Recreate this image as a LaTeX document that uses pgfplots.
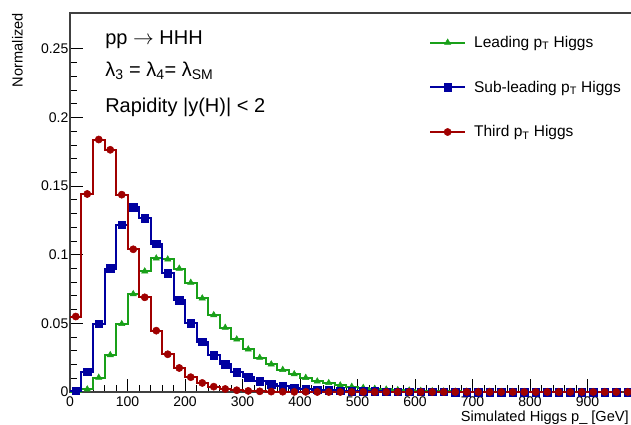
\documentclass[border=0pt]{standalone}
\usepackage{fontspec}
\setmainfont{Liberation Sans}
\usepackage{pgfplots}
\usepackage{pgfplotstable}
\pgfplotsset{compat=1.18}
\definecolor{cgreen}{RGB}{25,160,25}
\definecolor{cblue}{RGB}{0,0,160}
\definecolor{cred}{RGB}{160,0,0}
\pgfplotstableread{
x lead sub third
10 0.0003 0.001 0.055
30 0.002 0.0148 0.1443
50 0.0105 0.0496 0.184
70 0.027 0.090 0.1765
90 0.0496 0.122 0.1438
110 0.0714 0.1346 0.104
130 0.088 0.1265 0.069
150 0.0974 0.108 0.0447
170 0.0967 0.0865 0.0275
190 0.090 0.067 0.0175
210 0.0797 0.050 0.0108
230 0.0683 0.0367 0.0066
250 0.0561 0.027 0.0039
270 0.0469 0.0202 0.0022
290 0.0384 0.0144 0.0013
310 0.0311 0.0108 0.0008
330 0.025 0.0078 0.0005
350 0.0202 0.0056 0.0003
370 0.0162 0.0042 0.0002
390 0.013 0.0029 0.0001
410 0.0104 0.0022 0.0001
430 0.0078 0.0017 0
450 0.0066 0.0013 0
470 0.0049 0.0009 0
490 0.0039 0.0007 0
510 0.0031 0.0005 0
530 0.0024 0.0004 0
550 0.0019 0.0003 0
570 0.0015 0.0002 0
590 0.0012 0.0002 0
610 0.0009 0.0001 0
630 0.0007 0.0001 0
650 0.0005 0.0001 0
670 0.0004 0 0
690 0.0003 0 0
710 0.0002 0 0
730 0.0002 0 0
750 0.0001 0 0
770 0.0001 0 0
790 0.0001 0 0
810 0.0001 0 0
830 0 0 0
850 0 0 0
870 0 0 0
890 0 0 0
910 0 0 0
930 0 0 0
950 0 0 0
970 0 0 0
}\histdata
\begin{document}
\begin{tikzpicture}
\useasboundingbox (-70pt,-33pt) rectangle (561pt,392pt);
\begin{axis}[
  scale only axis, width=563.5pt, height=379pt,
  xmin=0, xmax=980, ymin=0, ymax=0.2762,
  xtick={0,100,...,900}, minor x tick num=4,
  ytick={0,0.05,0.1,0.15,0.2,0.25}, minor y tick num=4,
  tick pos=left, tick align=inside,
  major tick length=13pt, minor tick length=7pt,
  tick style={line width=0.9pt, black},
  axis line style={line width=1.2pt, black!75},
  /pgf/number format/assume math mode=true,
  /pgf/number format/fixed,
  ticklabel style={font=\fontsize{14}{16}\selectfont},
  yticklabel style={inner sep=1.5pt},
  xticklabel style={inner sep=2pt, yshift=-2.5pt},
  xlabel={Simulated Higgs p\_ [GeV]},
  xlabel style={at={(rel axis cs:0.992,-0.0485)}, anchor=north east, inner sep=0pt, font=\fontsize{14.6}{17}\selectfont},
  ylabel={Normalized},
  ylabel style={at={(rel axis cs:-0.0834,1)}, anchor=south east, inner sep=0pt, font=\fontsize{14.6}{17}\selectfont},
  legend style={draw=none, fill=none, at={(rel axis cs:0.637,0.942)}, anchor=north west,
    font=\fontsize{15.5}{18}\selectfont, row sep=30pt, inner sep=0pt,
    nodes={inner sep=1pt},
    /tikz/every odd column/.append style={column sep=7pt}},
  legend cell align=left,
  legend image code/.code={\draw[#1] (0pt,0pt) -- (35pt,0pt); \draw[#1] plot coordinates {(17.5pt,0pt)};},
]
\addplot[draw=cgreen, const plot mark left, mark=none, /tikz/line width=2pt, forget plot] table[x expr=\thisrow{x}-10, y=lead] {\histdata};
\addplot[only marks, cgreen, line width=2pt, mark=triangle*, mark size=3.6pt, mark options={solid, line width=0.5pt}] table[x=x, y=lead] {\histdata};
\addlegendentry{Leading p\textsubscript{T} Higgs}
\addplot[draw=cblue, const plot mark left, mark=none, /tikz/line width=2pt, forget plot] table[x expr=\thisrow{x}-10, y=sub] {\histdata};
\addplot[only marks, cblue, line width=2pt, mark=square*, mark size=3.8pt, mark options={solid, line width=0.5pt}] table[x=x, y=sub] {\histdata};
\addlegendentry{Sub-leading p\textsubscript{T} Higgs}
\addplot[draw=cred, const plot mark left, mark=none, /tikz/line width=2pt, forget plot] table[x expr=\thisrow{x}-10, y=third] {\histdata};
\addplot[only marks, cred, line width=2pt, mark=*, mark size=3.6pt, mark options={solid, line width=0.5pt}] table[x=x, y=third] {\histdata};
\addlegendentry{Third p\textsubscript{T} Higgs}
\node[anchor=base west, inner sep=0pt, font=\fontsize{20}{24}\selectfont] at (axis cs:61,0.2536) {pp $\rightarrow$ HHH};
\node[anchor=base west, inner sep=0pt, font=\fontsize{20}{24}\selectfont] at (axis cs:61,0.2300) {λ\textsubscript{3} = λ\textsubscript{4}= λ\textsubscript{SM}};
\node[anchor=base west, inner sep=0pt, font=\fontsize{20}{24}\selectfont] at (axis cs:61,0.2034) {Rapidity |y(H)| < 2};
\end{axis}
\end{tikzpicture}
\end{document}
